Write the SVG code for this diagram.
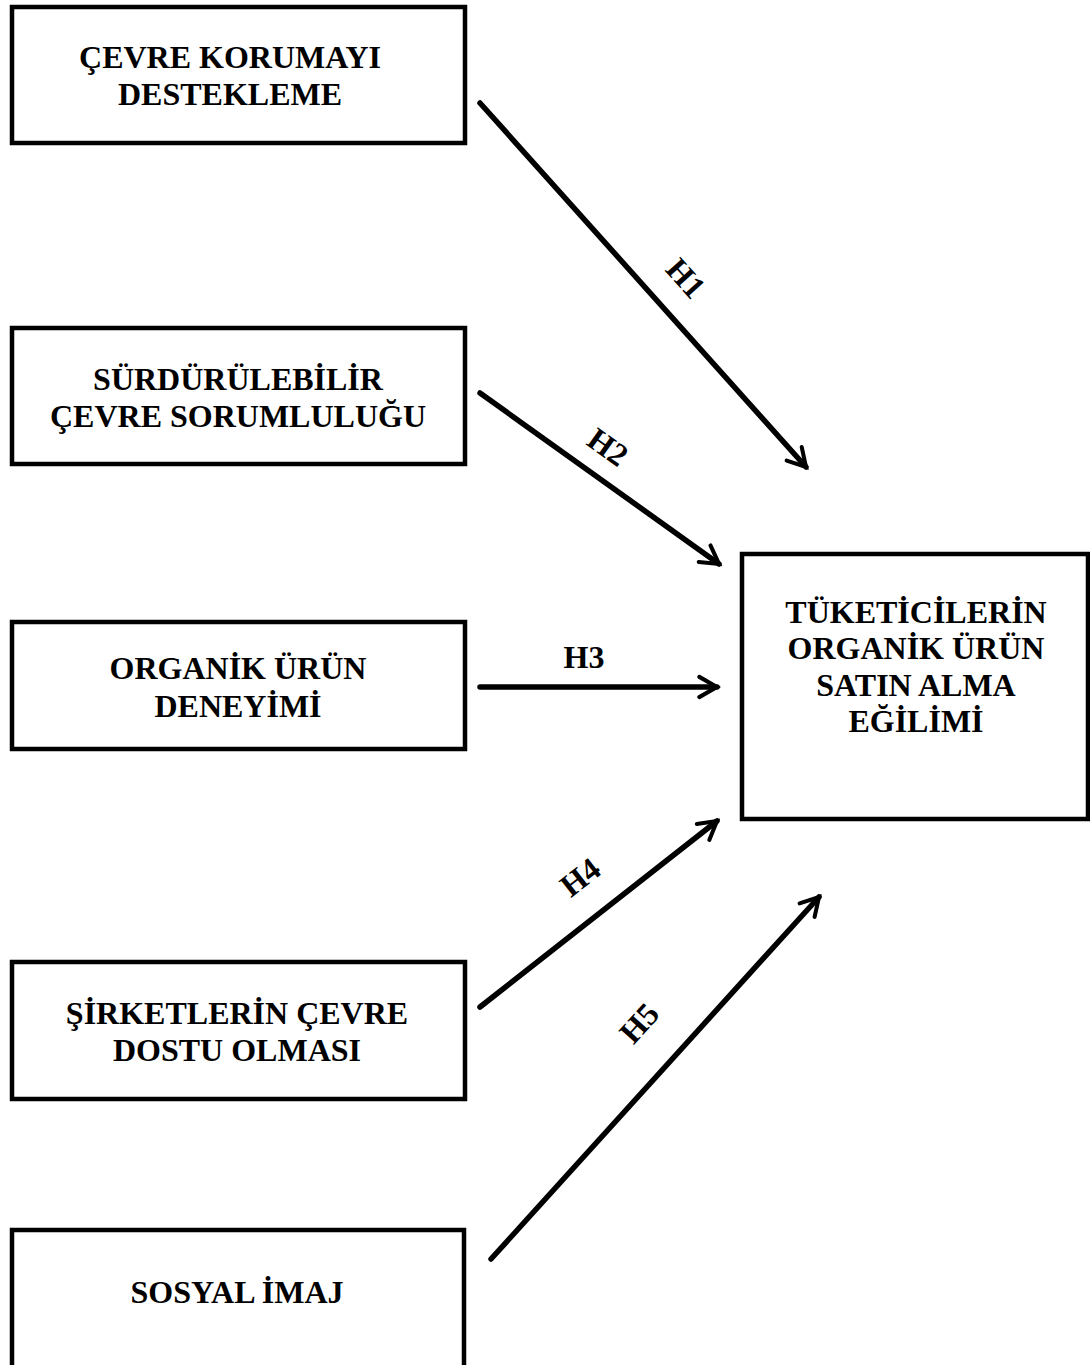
<svg xmlns="http://www.w3.org/2000/svg" width="1090" height="1365" viewBox="0 0 1090 1365">
<style>
.box{fill:#fff;stroke:#000;stroke-width:4.5}
.t{font-family:"Liberation Serif","Times New Roman",serif;font-weight:bold;font-size:32px;fill:#000;text-anchor:middle}
.c{stroke:#000;stroke-width:5.5;fill:none;stroke-linecap:round}
</style>
<defs>
<marker id="ah" viewBox="0 0 20 20" refX="17" refY="10" markerWidth="4.6" markerHeight="4.6" orient="auto" markerUnits="strokeWidth">
<path d="M3,2 L17,10 L3,18" fill="none" stroke="#000" stroke-width="3.2" stroke-linecap="round" stroke-linejoin="miter"/>
</marker>
</defs>
<rect width="1090" height="1365" fill="#fff"/>
<g id="n1"><rect class="box" x="12" y="7" width="453" height="136"/>
<text class="t" x="230" y="68">ÇEVRE KORUMAYI</text><text class="t" x="230" y="105">DESTEKLEME</text></g>
<g id="n2"><rect class="box" x="12" y="328" width="453" height="136"/>
<text class="t" x="238" y="390">SÜRDÜRÜLEBİLİR</text><text class="t" x="238" y="427">ÇEVRE SORUMLULUĞU</text></g>
<g id="n3"><rect class="box" x="12" y="622" width="453" height="127"/>
<text class="t" x="238" y="679">ORGANİK ÜRÜN</text><text class="t" x="238" y="717">DENEYİMİ</text></g>
<g id="n4"><rect class="box" x="12" y="962" width="453" height="137"/>
<text class="t" x="237" y="1024">ŞİRKETLERİN ÇEVRE</text><text class="t" x="237" y="1061">DOSTU OLMASI</text></g>
<g id="n5"><rect class="box" x="12" y="1230" width="452" height="140"/>
<text class="t" x="237" y="1303">SOSYAL İMAJ</text></g>
<g id="n6"><rect class="box" x="742" y="554" width="346" height="265"/>
<text class="t" x="916" y="623">TÜKETİCİLERİN</text><text class="t" x="916" y="659">ORGANİK ÜRÜN</text><text class="t" x="916" y="696">SATIN ALMA</text><text class="t" x="916" y="732">EĞİLİMİ</text></g>
<g id="connectors">
<line class="c" x1="480" y1="103" x2="806" y2="467" marker-end="url(#ah)"/>
<line class="c" x1="480" y1="393" x2="719" y2="564" marker-end="url(#ah)"/>
<line class="c" x1="480" y1="687" x2="717" y2="687" marker-end="url(#ah)"/>
<line class="c" x1="480" y1="1007" x2="717" y2="821" marker-end="url(#ah)"/>
<line class="c" x1="491" y1="1259" x2="819" y2="897" marker-end="url(#ah)"/>
<text class="t" transform="translate(686,278) rotate(48)" dy="11">H1</text>
<text class="t" transform="translate(608,447) rotate(35.5)" dy="11">H2</text>
<text class="t" x="584" y="668">H3</text>
<text class="t" transform="translate(580,877) rotate(-38)" dy="11">H4</text>
<text class="t" transform="translate(639,1023) rotate(-48)" dy="11">H5</text>
</g>
</svg>
